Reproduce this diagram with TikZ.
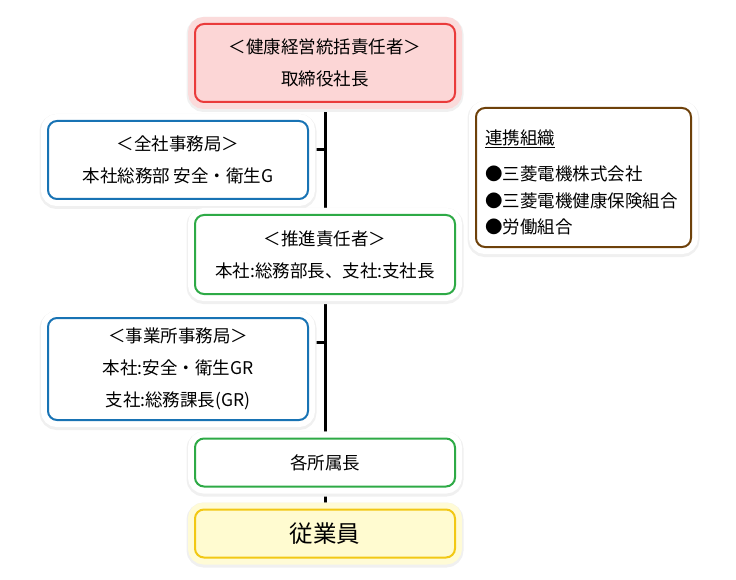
\documentclass[tikz,border=0pt]{standalone}
\usepackage{fontspec}
\setmainfont{Noto Sans CJK JP}
\usepackage{tikz}
\usetikzlibrary{backgrounds}

\definecolor{rotrand}{RGB}{234,59,59}
\definecolor{rosa}{RGB}{252,214,214}
\definecolor{rosahof}{RGB}{251,219,219}
\definecolor{blaurand}{RGB}{24,115,180}
\definecolor{gruenrand}{RGB}{46,170,70}
\definecolor{braunrand}{RGB}{110,65,10}
\definecolor{gelbrand}{RGB}{242,200,20}
\definecolor{gelb}{RGB}{255,251,208}
\definecolor{gelbhof}{RGB}{255,251,214}

\begin{document}
\begin{tikzpicture}[x=1pt, y=-1pt, inner sep=0pt,
	linie/.style={black, line width=3pt},
	hof/.style={preaction={draw=black!6, line width=17pt, transform canvas={yshift=-1.5pt}},
		preaction={draw=#1, line width=14pt}},
	kasten/.style={rectangle, rounded corners=9pt, line width=2pt, minimum width=260pt,
		align=center, font=\fontsize{17.5}{32}\selectfont}]

	\useasboundingbox (0,0) rectangle (736,580);

	% Kaesten
	\node[kasten, draw=rotrand, fill=rosa, hof=rosahof, minimum height=78pt](ceo) at (325,63) {＜健康経営統括責任者＞\\取締役社長};
	\node[kasten, draw=blaurand, fill=white, hof=white, minimum height=78pt](zensha) at (178,160) {＜全社事務局＞\\本社総務部 安全・衛生G};
	\node[kasten, draw=gruenrand, fill=white, hof=white, minimum height=79pt](suishin) at (325,254.5) {＜推進責任者＞\\本社:総務部長、支社:支社長};
	\node[kasten, draw=blaurand, fill=white, hof=white, minimum height=102pt](jigyo) at (178,369) {＜事業所事務局＞\\本社:安全・衛生GR\\支社:総務課長(GR)};
	\node[kasten, draw=gruenrand, fill=white, hof=white, minimum height=48pt](shozoku) at (325,462.5) {各所属長};
	\node[kasten, draw=gelbrand, fill=gelb, hof=gelbhof, minimum height=48pt, font=\fontsize{23.5}{28}\selectfont](jugyo) at (325,533.5) {従業員};

	\node[kasten, draw=braunrand, fill=white, hof=white, minimum width=215pt, minimum height=139pt,
		text width=197pt, align=left, font=\fontsize{17.5}{26.5}\selectfont](renkei) at (583.5,177.5)
		{\rule{0pt}{24.5pt}\underline{連携組織}\\[10pt]●三菱電機株式会社\\●三菱電機健康保険組合\\●労働組合};

	\coordinate (k1) at (325,150);
	\coordinate (k2) at (325,342);

	% Linien
	\begin{scope}[on background layer]
		\draw[linie](ceo) -- (jugyo);
		\draw[linie](zensha.east |- k1) -- (k1);
		\draw[linie](jigyo.east |- k2) -- (k2);
	\end{scope}

\end{tikzpicture}
\end{document}
